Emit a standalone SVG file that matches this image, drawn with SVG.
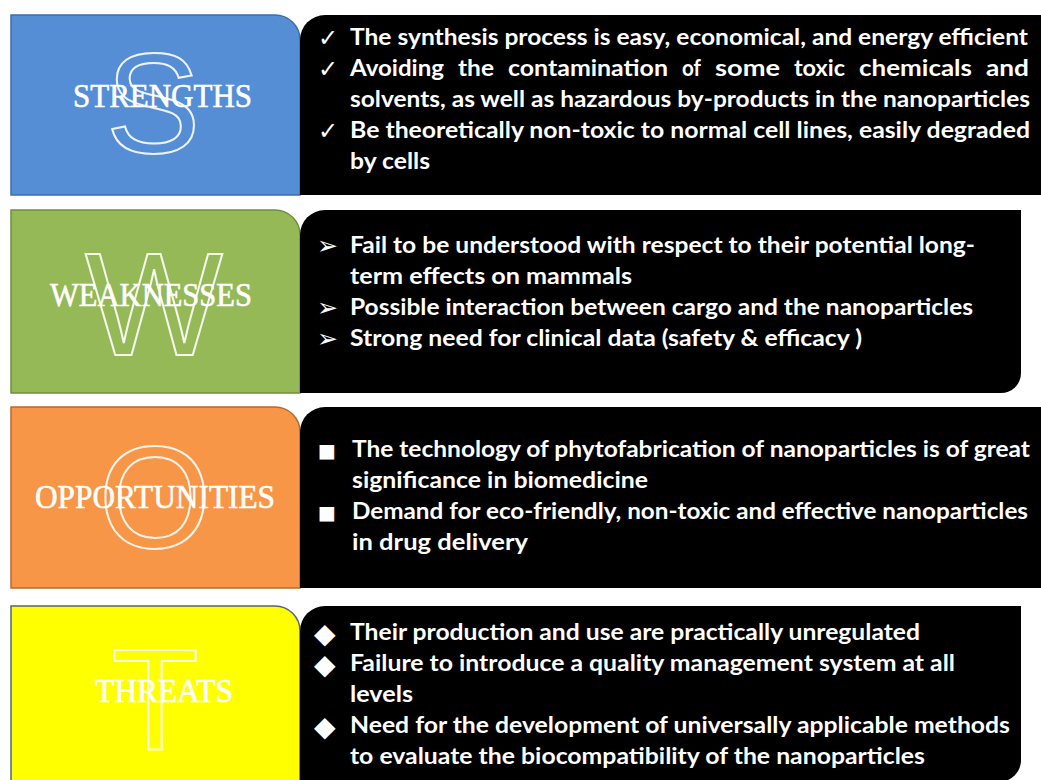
<svg xmlns="http://www.w3.org/2000/svg" width="1041" height="780" viewBox="0 0 1041 780">
<style>
.bg{fill:#ffffff}
.panel{fill:#000000}
.wm{fill:none;stroke:#ffffff;stroke-width:2;font-family:"Liberation Sans",Arial,sans-serif;text-anchor:middle;opacity:0.9}
.lbl{fill:#ffffff;stroke:#ffffff;stroke-width:0.6;font-family:"Liberation Serif","Times New Roman",serif;font-size:33px}
.txt{fill:#ffffff;font-family:Lato,"Liberation Sans",Arial,sans-serif;font-weight:bold;font-size:22px}
.bul{fill:#ffffff;font-family:"DejaVu Sans",sans-serif}
</style>
<rect class="bg" x="0" y="0" width="1041" height="780"/>

<g id="strengths">
  <path d="M11,15 H275 A25,25 0 0 1 300,40 V195 H11 Z" fill="#558ED5" stroke="#3D6DAD" stroke-width="1.5"/>
  <text class="wm" x="153" y="153" font-size="142">S</text>
  <text class="lbl" x="73" y="107" textLength="179" lengthAdjust="spacingAndGlyphs">STRENGTHS</text>
  <path class="panel" d="M300,40 A25,25 0 0 1 325,15 H1045 V195 H300 Z"/>
  <g class="bul" font-size="24">
    <text x="318" y="46">✓</text>
    <text x="318" y="77">✓</text>
    <text x="318" y="139">✓</text>
  </g>
  <text class="txt" x="350" y="45" textLength="678" lengthAdjust="spacingAndGlyphs">The synthesis process is easy, economical, and energy efficient</text>
  <text class="txt" y="76"><tspan x="350" textLength="94" lengthAdjust="spacingAndGlyphs">Avoiding</tspan><tspan x="458" textLength="36" lengthAdjust="spacingAndGlyphs">the</tspan><tspan x="508" textLength="160" lengthAdjust="spacingAndGlyphs">contamination</tspan><tspan x="682" textLength="19" lengthAdjust="spacingAndGlyphs">of</tspan><tspan x="715" textLength="65" lengthAdjust="spacingAndGlyphs">some</tspan><tspan x="794" textLength="51" lengthAdjust="spacingAndGlyphs">toxic</tspan><tspan x="859" textLength="113" lengthAdjust="spacingAndGlyphs">chemicals</tspan><tspan x="986" textLength="43" lengthAdjust="spacingAndGlyphs">and</tspan></text>
  <text class="txt" x="350" y="107" textLength="680" lengthAdjust="spacingAndGlyphs">solvents, as well as hazardous by-products in the nanoparticles</text>
  <text class="txt" x="350" y="138" textLength="680" lengthAdjust="spacingAndGlyphs">Be theoretically non-toxic to normal cell lines, easily degraded</text>
  <text class="txt" x="350" y="169" textLength="80" lengthAdjust="spacingAndGlyphs">by cells</text>
</g>

<g id="weaknesses">
  <path d="M11,210 H275 A25,25 0 0 1 300,235 V393 H11 Z" fill="#95B957" stroke="#6F8F3D" stroke-width="1.5"/>
  <text class="wm" x="154" y="355" font-size="146">W</text>
  <text class="lbl" x="50" y="306" textLength="202" lengthAdjust="spacingAndGlyphs">WEAKNESSES</text>
  <path class="panel" d="M300,235 A25,25 0 0 1 325,210 H1021 V373 A20,20 0 0 1 1001,393 H300 Z"/>
  <g class="bul" font-size="25">
    <text x="317" y="254">➢</text>
    <text x="317" y="316">➢</text>
    <text x="317" y="347">➢</text>
  </g>
  <text class="txt" x="350" y="253" textLength="625" lengthAdjust="spacingAndGlyphs">Fail to be understood with respect to their potential long-</text>
  <text class="txt" x="350" y="284" textLength="282" lengthAdjust="spacingAndGlyphs">term effects on mammals</text>
  <text class="txt" x="350" y="315" textLength="623" lengthAdjust="spacingAndGlyphs">Possible interaction between cargo and the nanoparticles</text>
  <text class="txt" x="350" y="346" textLength="512" lengthAdjust="spacingAndGlyphs">Strong need for clinical data (safety &amp; efficacy )</text>
</g>

<g id="opportunities">
  <path d="M11,407 H275 A25,25 0 0 1 300,432 V588 H11 Z" fill="#F79646" stroke="#B86A2C" stroke-width="1.5"/>
  <text class="wm" x="155" y="548" font-size="145">O</text>
  <text class="lbl" x="35" y="508" textLength="240" lengthAdjust="spacingAndGlyphs">OPPORTUNITIES</text>
  <path class="panel" d="M300,432 A25,25 0 0 1 325,407 H1045 V588 H300 Z"/>
  <g class="bul" font-size="19">
    <text x="318" y="457">■</text>
    <text x="318" y="519">■</text>
  </g>
  <text class="txt" x="352" y="457" textLength="678" lengthAdjust="spacingAndGlyphs">The technology of phytofabrication of nanoparticles is of great</text>
  <text class="txt" x="352" y="488" textLength="296" lengthAdjust="spacingAndGlyphs">significance in biomedicine</text>
  <text class="txt" x="352" y="519" textLength="676" lengthAdjust="spacingAndGlyphs">Demand for eco-friendly, non-toxic and effective nanoparticles</text>
  <text class="txt" x="352" y="550" textLength="176" lengthAdjust="spacingAndGlyphs">in drug delivery</text>
</g>

<g id="threats">
  <path d="M11,606 H275 A25,25 0 0 1 300,631 V790 H11 Z" fill="#FFFF00" stroke="#55657A" stroke-width="1.5"/>
  <text class="wm" x="155" y="750" font-size="144">T</text>
  <text class="lbl" x="95" y="702" textLength="138" lengthAdjust="spacingAndGlyphs">THREATS</text>
  <path class="panel" d="M300,631 A25,25 0 0 1 325,606 H1021 V760 A22,22 0 0 1 999,782 H300 Z"/>
  <g class="bul" font-size="28">
    <text x="314" y="643">◆</text>
    <text x="314" y="674">◆</text>
    <text x="314" y="736">◆</text>
  </g>
  <text class="txt" x="350" y="640" textLength="570" lengthAdjust="spacingAndGlyphs">Their production and use are practically unregulated</text>
  <text class="txt" x="350" y="671" textLength="605" lengthAdjust="spacingAndGlyphs">Failure to introduce a quality management system at all</text>
  <text class="txt" x="350" y="702" textLength="63" lengthAdjust="spacingAndGlyphs">levels</text>
  <text class="txt" x="350" y="733" textLength="660" lengthAdjust="spacingAndGlyphs">Need for the development of universally applicable methods</text>
  <text class="txt" x="350" y="764" textLength="575" lengthAdjust="spacingAndGlyphs">to evaluate the biocompatibility of the nanoparticles</text>
</g>

<g id="connectors"/>
</svg>
